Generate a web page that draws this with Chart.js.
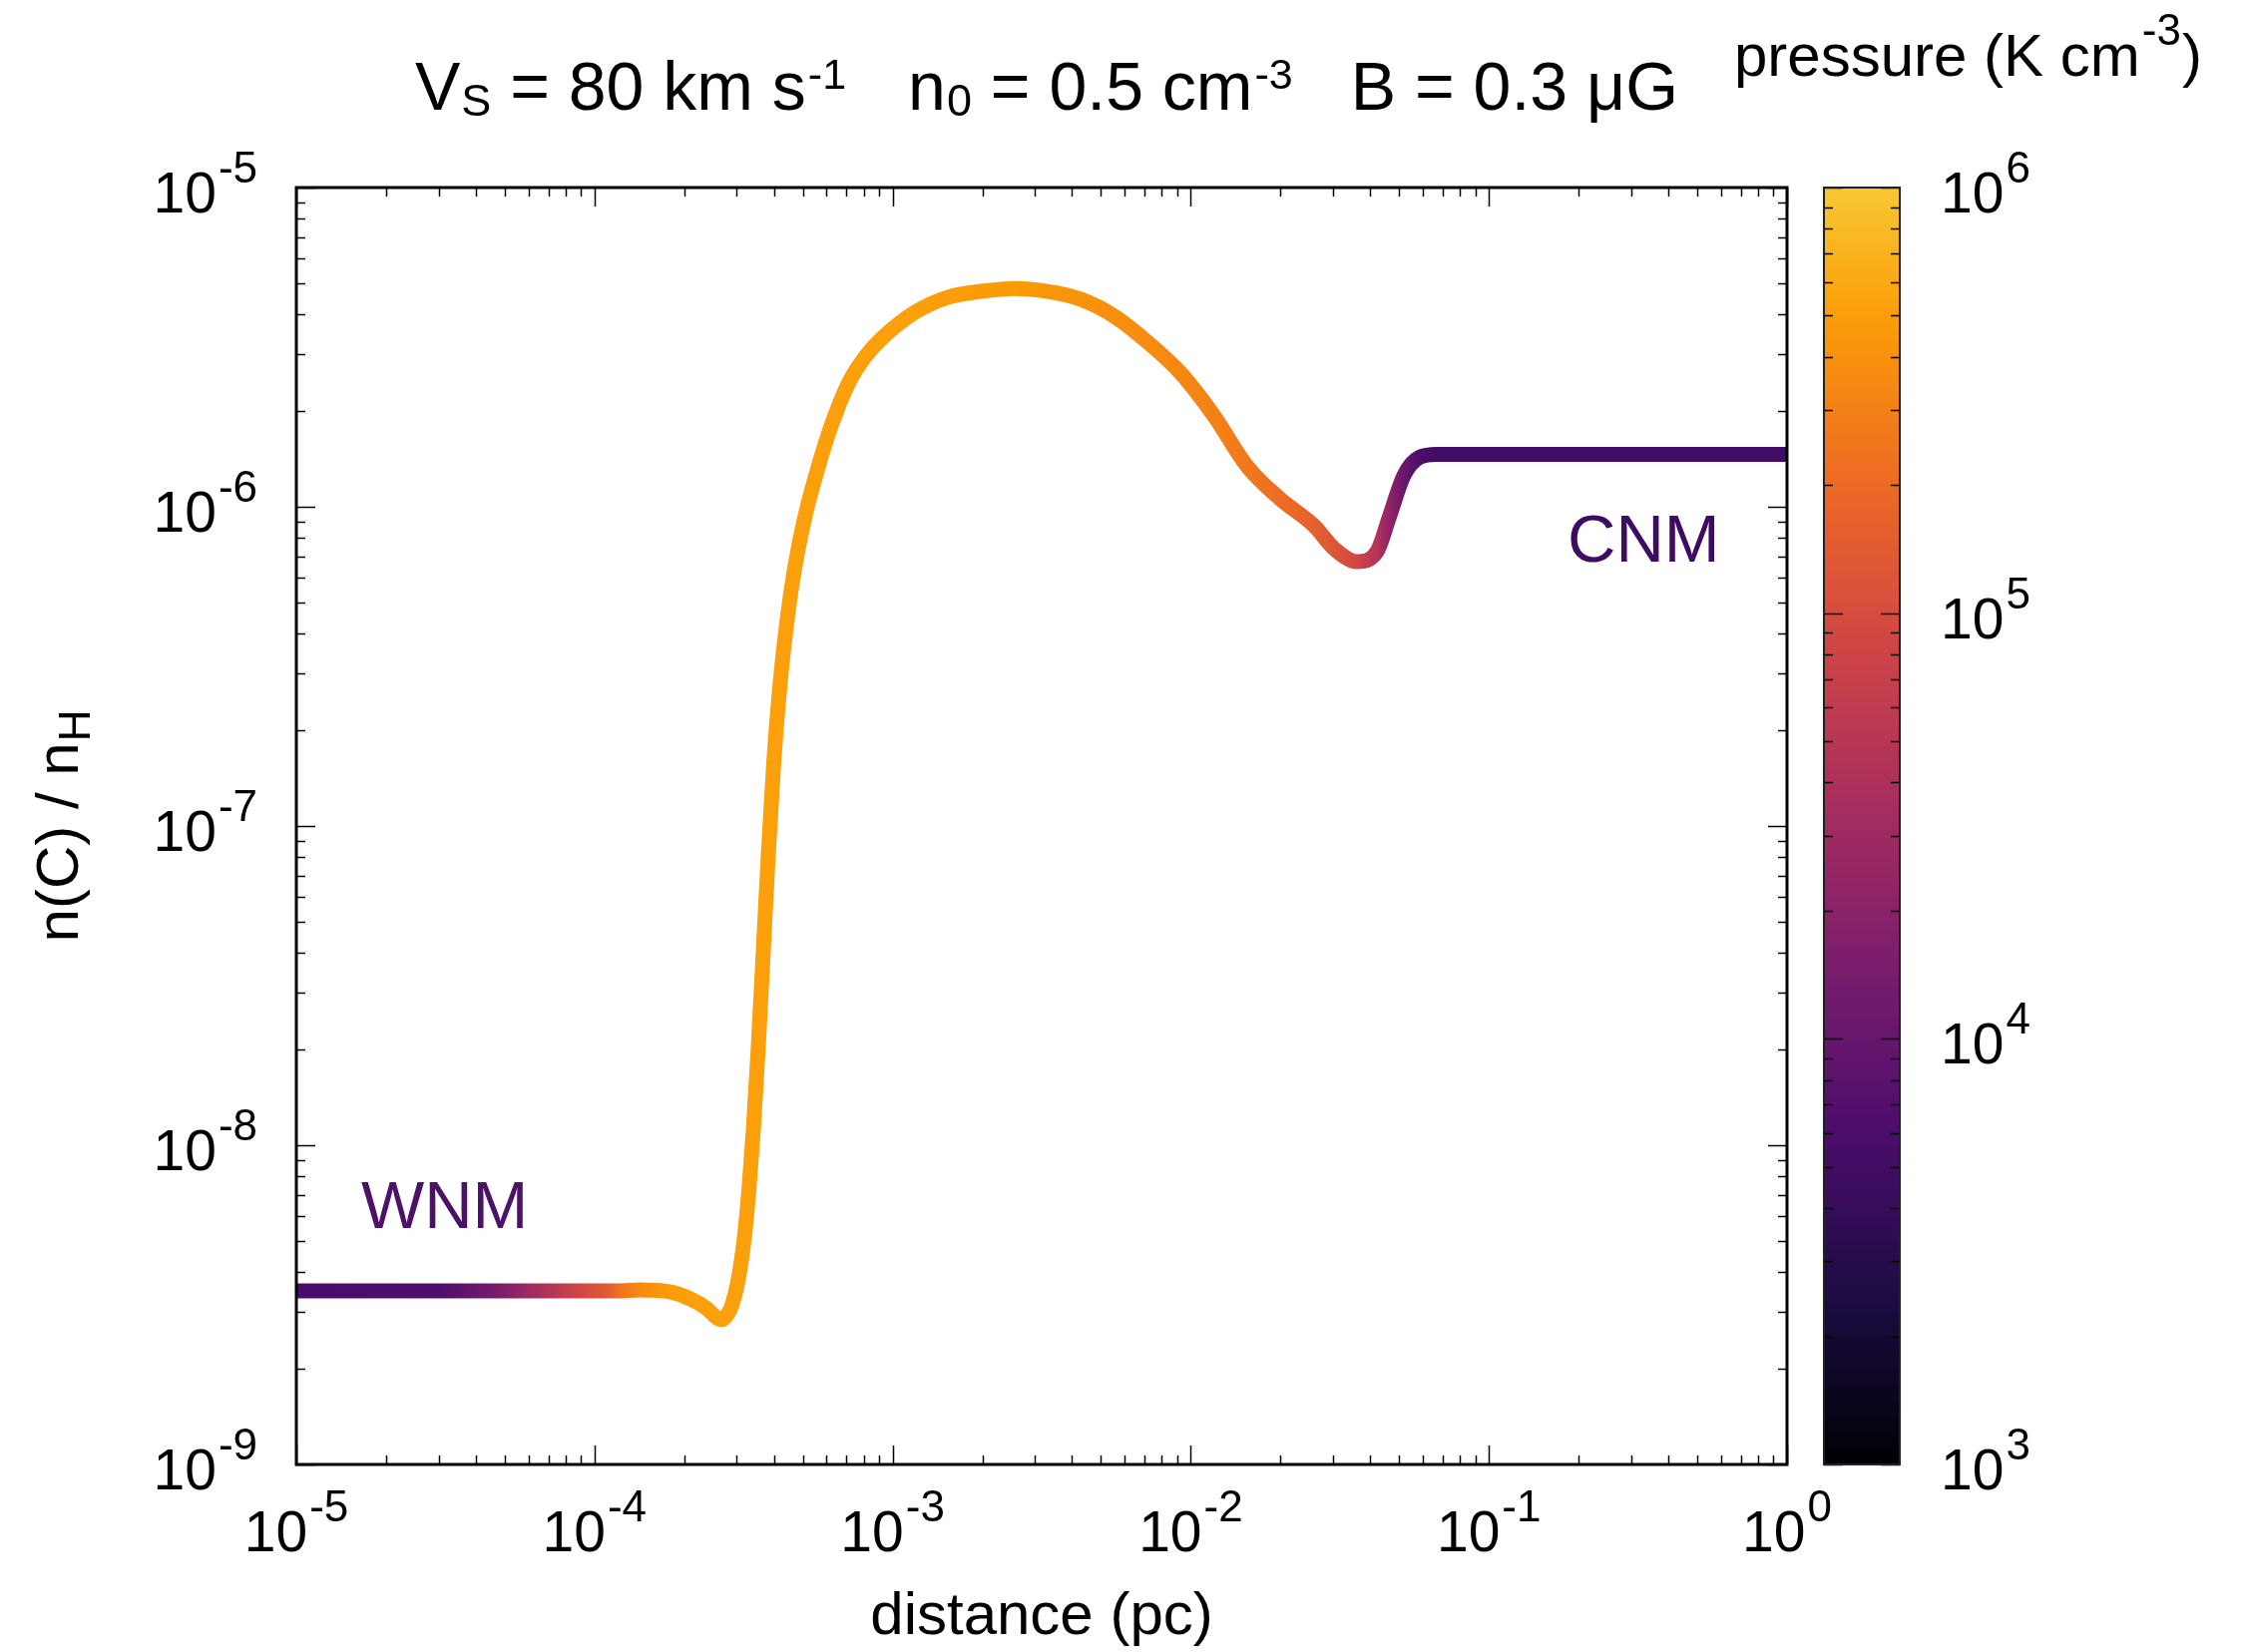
<!DOCTYPE html>
<html><head><meta charset="utf-8">
<script src="https://cdn.jsdelivr.net/npm/chart.js@4.4.0/dist/chart.umd.min.js"></script>
<style>html,body{margin:0;padding:0;background:#fff;}#wrap{width:2247px;height:1656px;}</style>
</head><body><div id="wrap"><canvas id="c" width="2247" height="1656"></canvas></div>
<script>
// ---------------- data ----------------
const distance = [1.0e-5, 3.0e-5, 3.2e-5, 3.9e-5, 4.8e-5, 5.9e-5, 7.2e-5, 8.9e-5, 1.10e-4, 1.23e-4,
  1.41e-4, 1.80e-4, 2.10e-4, 2.36e-4, 2.55e-4, 2.66e-4, 2.77e-4, 2.88e-4,
  3.036e-4, 3.172e-4, 3.290e-4, 3.412e-4, 3.540e-4, 3.679e-4, 3.823e-4, 3.994e-4, 4.198e-4, 4.433e-4, 4.710e-4,
  5.09e-4, 5.64e-4, 6.22e-4, 7.10e-4, 8.09e-4, 9.14e-4, 1.19e-3, 1.53e-3, 1.98e-3, 2.57e-3,
  3.31e-3, 4.27e-3, 5.55e-3, 7.16e-3, 9.23e-3, 1.20e-2, 1.545e-2, 1.99e-2, 2.59e-2, 3.03e-2,
  3.61e-2, 4.21e-2, 4.65e-2, 5.18e-2, 5.86e-2, 6.68e-2, 1.0];
const abundance = [3.50e-9, 3.50e-9, 3.50e-9, 3.50e-9, 3.50e-9, 3.50e-9, 3.50e-9, 3.50e-9, 3.50e-9, 3.50e-9,
  3.52e-9, 3.47e-9, 3.30e-9, 3.10e-9, 2.90e-9, 2.84e-9, 2.92e-9, 3.12e-9,
  3.80e-9, 5.01e-9, 7.08e-9, 1.122e-8, 1.995e-8, 3.98e-8, 7.94e-8, 1.585e-7, 2.82e-7, 4.47e-7, 6.55e-7,
  9.37e-7, 1.34e-6, 1.79e-6, 2.43e-6, 2.95e-6, 3.35e-6, 4.07e-6, 4.53e-6, 4.73e-6, 4.83e-6,
  4.73e-6, 4.47e-6, 3.95e-6, 3.28e-6, 2.63e-6, 1.92e-6, 1.34e-6, 1.06e-6, 8.73e-7, 7.39e-7,
  6.73e-7, 7.23e-7, 9.38e-7, 1.25e-6, 1.43e-6, 1.46e-6, 1.46e-6];
const logPressure = [3.76, 3.80, 3.84, 4.00, 4.17, 4.45, 4.69, 4.93, 5.14, 5.38,
  5.55, 5.69, 5.71, 5.71, 5.71, 5.71, 5.71, 5.71,
  5.71, 5.71, 5.71, 5.71, 5.71, 5.71, 5.71, 5.71, 5.71, 5.71, 5.71,
  5.71, 5.71, 5.71, 5.71, 5.71, 5.71, 5.71, 5.70, 5.69, 5.68,
  5.65, 5.62, 5.59, 5.56, 5.53, 5.48, 5.41, 5.33, 5.21, 5.10,
  4.93, 4.66, 4.34, 4.03, 3.79, 3.69, 3.69];
const xTickExponents = [-5, -4, -3, -2, -1, 0];
const yTickExponents = [-9, -8, -7, -6, -5];
const cbarTickExponents = [3, 4, 5, 6];
const xTitle = 'distance (pc)';
const cbarTitle = ['pressure (K cm', '-3', ')'];
const regionLabels = ['WNM', 'CNM'];

// ---------------- colormap ----------------
const INFERNO = ['#000004','#1b0c41','#4a0c6b','#781c6d','#a52c60','#cf4446','#ed6925','#fb9b06','#f7d13d','#fcffa4'];
const hex2rgb = h => [parseInt(h.slice(1,3),16), parseInt(h.slice(3,5),16), parseInt(h.slice(5,7),16)];
const INF_RGB = INFERNO.map(hex2rgb);
function inferno(t) {
  t = Math.max(0, Math.min(1, t));
  const s = t * (INF_RGB.length - 1);
  const i = Math.min(INF_RGB.length - 2, Math.floor(s));
  const f = s - i;
  const a = INF_RGB[i], b = INF_RGB[i + 1];
  const c = a.map((v, k) => Math.round(v + (b[k] - v) * f));
  return `rgb(${c[0]},${c[1]},${c[2]})`;
}
const CMAP_TOP = 0.87;
function pressureColor(lp) { return inferno((lp - 3) / 3 * CMAP_TOP); }

const FONT = '"Liberation Sans", Arial, Helvetica, sans-serif';
function richWidth(ctx, parts) {
  let w = 0;
  for (const p of parts) { ctx.font = `${p.s}px ${FONT}`; w += ctx.measureText(p.t).width + (p.g || 0); }
  return w;
}
function drawRich(ctx, parts, x, y, align) {
  const w = richWidth(ctx, parts);
  let cx = align === 'center' ? x - w / 2 : align === 'right' ? x - w : x;
  ctx.textAlign = 'left';
  ctx.textBaseline = 'alphabetic';
  for (const p of parts) {
    ctx.font = `${p.s}px ${FONT}`;
    cx += (p.g || 0);
    ctx.fillText(p.t, cx, y + (p.dy || 0));
    cx += ctx.measureText(p.t).width;
  }
}
const powLabel = e => [{t: '10', s: 57}, {t: String(e), s: 44, dy: -30, g: 2}];

const decorPlugin = {
  id: 'decor',
  afterDraw(chart) {
    const ctx = chart.ctx;
    const a = chart.chartArea;
    const xs = chart.scales.x, ys = chart.scales.y, ps = chart.scales.pressure;
    ctx.save();
    ctx.fillStyle = '#000';
    ctx.strokeStyle = '#000';
    // ticks
    ctx.lineWidth = 1.5;
    ctx.beginPath();
    for (let n = xTickExponents[0]; n <= xTickExponents[xTickExponents.length - 1]; n++) {
      for (let k = 1; k <= 9; k++) {
        if (n === xTickExponents[xTickExponents.length - 1] && k > 1) break;
        const px = Math.round(xs.getPixelForValue(k * Math.pow(10, n))) + 0.5;
        const L = k === 1 ? 19 : 9;
        ctx.moveTo(px, a.bottom); ctx.lineTo(px, a.bottom - L);
        ctx.moveTo(px, a.top); ctx.lineTo(px, a.top + L);
      }
    }
    for (let n = yTickExponents[0]; n <= yTickExponents[yTickExponents.length - 1]; n++) {
      for (let k = 1; k <= 9; k++) {
        if (n === yTickExponents[yTickExponents.length - 1] && k > 1) break;
        const py = Math.round(ys.getPixelForValue(k * Math.pow(10, n))) + 0.5;
        const L = k === 1 ? 19 : 9;
        ctx.moveTo(a.left, py); ctx.lineTo(a.left + L, py);
        ctx.moveTo(a.right, py); ctx.lineTo(a.right - L, py);
      }
    }
    ctx.stroke();
    // frame
    ctx.lineWidth = 3;
    ctx.strokeRect(a.left, a.top, a.right - a.left, a.bottom - a.top);

    // tick labels
    ctx.fillStyle = '#000';
    xTickExponents.forEach(e => {
      drawRich(ctx, powLabel(e), xs.getPixelForValue(Math.pow(10, e)), 1555, 'center');
    });
    yTickExponents.forEach(e => {
      drawRich(ctx, powLabel(e), 258, ys.getPixelForValue(Math.pow(10, e)) + 25, 'right');
    });

    // colorbar
    const cbL = 1828, cbR = 1904;
    const top = ps.getPixelForValue(1e6), bot = ps.getPixelForValue(1e3);
    const g = ctx.createLinearGradient(0, bot, 0, top);
    for (let i = 0; i <= 40; i++) g.addColorStop(i / 40, inferno(i / 40 * CMAP_TOP));
    ctx.fillStyle = g;
    ctx.fillRect(cbL, top, cbR - cbL, bot - top);
    ctx.strokeStyle = '#000';
    ctx.lineWidth = 1.5;
    ctx.beginPath();
    for (let n = cbarTickExponents[0]; n <= cbarTickExponents[cbarTickExponents.length - 1]; n++) {
      for (let k = 1; k <= 9; k++) {
        if (n === cbarTickExponents[cbarTickExponents.length - 1] && k > 1) break;
        const py = Math.round(ps.getPixelForValue(k * Math.pow(10, n))) + 0.5;
        const L = k === 1 ? 19 : 9;
        ctx.moveTo(cbL, py); ctx.lineTo(cbL + L, py);
        ctx.moveTo(cbR, py); ctx.lineTo(cbR - L, py);
      }
    }
    ctx.stroke();
    ctx.strokeStyle = '#222';
    ctx.lineWidth = 2;
    ctx.strokeRect(cbL, top, cbR - cbL, bot - top);
    ctx.fillStyle = '#000';
    cbarTickExponents.forEach(e => {
      drawRich(ctx, powLabel(e), 1945, ps.getPixelForValue(Math.pow(10, e)) + 25, 'left');
    });
    drawRich(ctx, [{t: cbarTitle[0], s: 60}, {t: cbarTitle[1], s: 44, dy: -31, g: 2}, {t: cbarTitle[2], s: 60, g: 1}], 1738, 76, 'left');

    // title
    const M = 68, S = 45;
    drawRich(ctx, [
      {t: 'V', s: M}, {t: 'S', s: S, dy: 6, g: 1}, {t: ' = 80 km s', s: M}, {t: '-1', s: 43, dy: -21, g: 2},
      {t: 'n', s: M, g: 62}, {t: '0', s: S, dy: 6, g: 1}, {t: ' = 0.5 cm', s: M}, {t: '-3', s: 43, dy: -21, g: 2},
      {t: 'B = 0.3 μG', s: M, g: 58}
    ], (a.left + a.right) / 2 + 5, 110, 'center');

    // axis titles
    drawRich(ctx, [{t: xTitle, s: 60}], (a.left + a.right) / 2, 1638, 'center');
    ctx.save();
    ctx.translate(78, (a.top + a.bottom) / 2);
    ctx.rotate(-Math.PI / 2);
    drawRich(ctx, [{t: 'n(C) / n', s: 60}, {t: 'H', s: 44, dy: 12, g: 1}], 0, 0, 'center');
    ctx.restore();

    // region labels
    ctx.fillStyle = '#4b1268';
    drawRich(ctx, [{t: regionLabels[0], s: 67}], 362, 1231, 'left');
    ctx.fillStyle = '#3e0b63';
    drawRich(ctx, [{t: regionLabels[1], s: 67}], 1571, 563, 'left');
    ctx.restore();
  }
};

new Chart(document.getElementById('c'), {
  type: 'line',
  data: {
    datasets: [{
      data: distance.map((d, i) => ({x: d, y: abundance[i]})),
      borderWidth: 15,
      pointRadius: 0,
      cubicInterpolationMode: 'monotone',
      borderJoinStyle: 'round',
      borderCapStyle: 'butt',
      borderColor: (ctx) => {
        const chart = ctx.chart;
        const a = chart.chartArea;
        if (!a || !chart.scales.x) return '#fb9b06';
        const xs = chart.scales.x;
        const g = chart.ctx.createLinearGradient(a.left, 0, a.right, 0);
        distance.forEach((d, i) => {
          let s = (xs.getPixelForValue(d) - a.left) / (a.right - a.left);
          s = Math.max(0, Math.min(1, s));
          g.addColorStop(s, pressureColor(logPressure[i]));
        });
        return g;
      }
    }]
  },
  options: {
    responsive: false,
    animation: false,
    devicePixelRatio: 1,
    layout: {padding: {left: 297, top: 188, right: 456, bottom: 188}},
    plugins: {legend: {display: false}, title: {display: false}, tooltip: {enabled: false}},
    scales: {
      x: {type: 'logarithmic', min: 1e-5, max: 1, display: false},
      y: {type: 'logarithmic', min: 1e-9, max: 1e-5, display: false},
      pressure: {type: 'logarithmic', axis: 'y', min: 1e3, max: 1e6, display: false}
    }
  },
  plugins: [decorPlugin]
});
</script></body></html>
